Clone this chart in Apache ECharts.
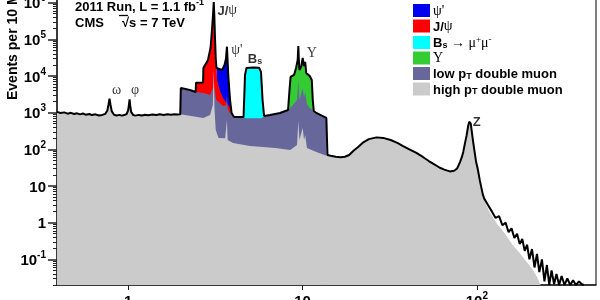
<!DOCTYPE html>
<html>
<head>
<meta charset="utf-8">
<script src="https://cdn.jsdelivr.net/npm/echarts@6/dist/echarts.min.js"></script>
<style>
  html, body { margin: 0; padding: 0; background: #fff; }
  #chart { width: 600px; height: 300px; }
</style>
</head>
<body>
<div id="chart"></div>
<script>
// dimuon mass (GeV) and events per bin

// below 2 GeV: both triggers give the same curve
const lowMass = [0.39, 0.41, 0.43, 0.45, 0.47, 0.49, 0.51, 0.53, 0.55, 0.57, 0.6, 0.62, 0.65, 0.68, 0.71, 0.74, 0.76, 0.772, 0.782, 0.792, 0.805, 0.83, 0.86, 0.89, 0.92, 0.95, 0.98, 1.0, 1.012, 1.019, 1.027, 1.04, 1.07, 1.1, 1.15, 1.2, 1.25, 1.3, 1.38, 1.45, 1.52, 1.6, 1.68, 1.76, 1.84, 1.92, 1.99];
const lowEvents = [1050, 980, 1020, 940, 990, 920, 960, 900, 950, 880, 920, 860, 900, 840, 870, 930, 1150, 1700, 2400, 1650, 1100, 880, 840, 870, 830, 860, 920, 1150, 1750, 2300, 1600, 1050, 860, 830, 870, 840, 880, 850, 890, 860, 900, 870, 900, 880, 910, 890, 900];

// 2 - 13.9 GeV: total (outline)
const midMass = [2.0, 2.005, 2.26, 2.44, 2.45, 2.69, 2.70, 2.87, 2.97, 3.03, 3.07, 3.097, 3.12, 3.15, 3.18, 3.21, 3.28, 3.455, 3.57, 3.64, 3.686, 3.72, 3.75, 3.84, 3.92, 4.05, 4.59, 4.68, 4.77, 5.2, 5.63, 5.78, 5.90, 6.02, 6.51, 7.43, 8.26, 8.42, 8.54, 8.94, 9.18, 9.38, 9.46, 9.53, 9.6, 9.85, 10.02, 10.2, 10.36, 10.5, 11.0, 11.3, 11.45, 11.6, 12.0, 13.0, 13.7, 13.86];
const midTotal = [900, 4700, 4160, 3670, 6500, 6700, 16500, 27300, 60000, 200000, 500000, 1040000, 450000, 100000, 30000, 16500, 14600, 14600, 20000, 30000, 63000, 25000, 10700, 2220, 980, 764, 760, 10700, 16600, 17000, 16900, 12900, 2220, 813, 865, 982, 1186, 4160, 9420, 10700, 16600, 27300, 65900, 27300, 14600, 18800, 31000, 18800, 24200, 12100, 10000, 7800, 2220, 1110, 982, 813, 718, 700];

// triggered resonances
const jpsiMass = [2.44, 2.45, 2.69, 2.70, 2.87, 2.97, 3.03, 3.07, 3.097, 3.12, 3.15, 3.18, 3.21, 3.24, 3.35, 3.5, 3.7, 3.85, 3.95, 4.02];
const jpsiEvents = [3670, 6500, 6700, 16500, 27300, 60000, 200000, 500000, 1040000, 450000, 100000, 30000, 16500, 7800, 4160, 2520, 1730, 1340, 920, 760];
const psiMass = [3.21, 3.28, 3.455, 3.57, 3.64, 3.686, 3.72, 3.75, 3.84, 3.92, 4.05];
const psiEvents = [16500, 14600, 14600, 20000, 30000, 63000, 25000, 10700, 2220, 980, 764];
const bsMass = [4.59, 4.68, 4.77, 5.2, 5.63, 5.78, 5.90, 6.02];
const bsEvents = [760, 10700, 16600, 17000, 16900, 12900, 2220, 813];
const upsMass = [8.26, 8.42, 8.54, 8.94, 9.18, 9.38, 9.46, 9.53, 9.6, 9.85, 10.02, 10.2, 10.36, 10.5, 11.0, 11.3, 11.45, 11.6];
const upsEvents = [1186, 4160, 9420, 10700, 16600, 27300, 65900, 27300, 14600, 18800, 31000, 18800, 24200, 12100, 10000, 7800, 2220, 1110];

// low pT double muon
const lowPtMass = [2.002, 2.26, 2.44, 2.7, 2.95, 3.08, 3.097, 3.115, 3.2, 3.5, 3.65, 3.686, 3.72, 3.8, 4.05, 4.55, 4.7, 5.8, 6.02, 6.51, 7.43, 8.26, 8.5, 9.3, 9.46, 9.6, 10.02, 10.2, 10.36, 10.6, 11.0, 11.5, 12.0, 13.0, 13.7, 13.86];
const lowPtEvents = [4700, 4160, 3670, 3440, 3040, 5000, 15000, 5000, 2220, 1520, 1600, 3040, 1300, 1045, 760, 745, 700, 700, 790, 865, 982, 1186, 1340, 2220, 7800, 2220, 4720, 2520, 3670, 1730, 1340, 1190, 982, 813, 718, 700];

// high pT double muon between 2 and 13.9 GeV
const highPtMass = [2.0, 2.3, 2.7, 2.95, 3.06, 3.097, 3.13, 3.18, 3.3, 3.6, 3.65, 3.686, 3.72, 4.0, 5.0, 7.0, 8.5, 9.3, 9.46, 9.6, 10.02, 10.2, 10.36, 10.6, 12.0, 13.86];
const highPtEvents = [900, 810, 718, 865, 1620, 14600, 1190, 337, 204, 200, 215, 632, 180, 149, 124, 109, 96, 131, 600, 180, 383, 180, 247, 109, 85, 66];

// above 13.9 GeV up to the Z
const zMass = [13.9, 14.5, 15.5, 16.5, 17.5, 18.5, 19.6, 21, 22.3, 24, 26.6, 29, 32, 35, 37.5, 41, 45, 49, 53, 57, 61, 65, 70, 74, 77, 80, 82, 83.5, 85.5, 87.3, 89, 90.3, 91.2, 92.2, 93.3, 95, 97, 99, 101];
const zEvents = [70, 67, 63, 61, 63, 70, 92, 120, 155, 190, 212, 205, 180, 150, 125, 100, 80, 62, 48, 39, 32, 28, 25, 26, 30, 45, 62, 85, 150, 240, 420, 570, 610, 500, 330, 170, 85, 45, 30];

// high mass tail: outline and the grey fill under it
const tailMass = [104, 108, 110, 116, 122, 128, 134, 140, 146, 152, 158, 164, 170, 176, 182, 188, 194, 200, 207, 214, 221, 228, 236, 244, 252, 260, 268, 277, 286, 296, 306, 318, 330, 343, 356, 370, 385, 400, 410];
const tailEvents = [14, 6, 4.6, 3.0, 2.0, 1.35, 1.5, 0.85, 1.0, 0.55, 0.7, 0.38, 0.5, 0.26, 0.36, 0.17, 0.25, 0.1, 0.19, 0.06, 0.14, 0.045, 0.1, 0.025, 0.07, 0.02, 0.05, 0.021, 0.04, 0.02, 0.035, 0.02, 0.03, 0.02, 0.027, 0.02, 0.025, 0.021, 0.02];
const greyTailMass = [104, 108, 118, 130, 145, 160, 176, 195, 210, 222, 232];
const greyTailEvents = [12, 5, 2.0, 0.95, 0.5, 0.25, 0.15, 0.08, 0.05, 0.032, 0.02];

// peak annotations
const peakNames = ['omega', 'phi', 'jpsi', 'psi', 'bs', 'ups', 'z'];
const peakMass = [0.86, 1.095, 3.7, 4.2, 5.34, 11.3, 99.7];
const peakEvents = [4160, 4160, 632000, 51300, 30400, 43300, 569];

const yTicks = [-1, 0, 1, 2, 3, 4, 5, 6];
const xTicks = [0, 1, 2];

const sans = '"Liberation Sans", Arial, sans-serif';
const serif = '"Liberation Serif", "DejaVu Serif", serif';

const toXY = (ms, ns) => ms.map((m, i) => [Math.log10(m), Math.log10(ns[i])]);

const peakText = {
  omega: '{g|ω}',
  phi: '{g|φ}',
  jpsi: '{b|J/}{g|ψ}',
  psi: "{g|ψ'}",
  bs: '{b|B}{sub|s}',
  ups: '{g|Υ}',
  z: '{b|Z}'
};
const legendText = {
  psi: "{g|ψ'}",
  jpsi: '{b|J/}{g|ψ}',
  bs: '{b|B}{sub|s}{g| → μ}{sup|+}{g|μ}{sup|-}',
  ups: '{g|Υ}',
  lowpt: '{b|low p}{sub|T}{b| double muon}',
  highpt: '{b|high p}{sub|T}{b| double muon}'
};
const richText = {
  b: { fontFamily: sans, fontWeight: 'bold', fontSize: 13, color: '#000', lineHeight: 15, verticalAlign: 'bottom' },
  g: { fontFamily: serif, fontSize: 14, color: '#000', lineHeight: 15, verticalAlign: 'bottom' },
  sub: { fontFamily: sans, fontWeight: 'bold', fontSize: 9, color: '#000', lineHeight: 9, verticalAlign: 'bottom' },
  sup: { fontFamily: serif, fontSize: 9, color: '#000', lineHeight: 9, verticalAlign: 'top' }
};

const minorTicks = [];
for (let n = -2; n <= 6; n++) {
  for (let k = 2; k <= 9; k++) minorTicks.push(n + Math.log10(k));
}

function area(name, color, data) {
  return {
    name: name,
    type: 'line',
    data: data,
    symbol: 'none',
    silent: true,
    color: color,
    itemStyle: { color: color },
    lineStyle: { width: 0 },
    areaStyle: { color: color, opacity: 1, origin: 'start' }
  };
}

const supLabel = {
  b: { fontFamily: sans, fontWeight: 'bold', fontSize: 15, color: '#000', lineHeight: 18, verticalAlign: 'bottom' },
  s: { fontFamily: sans, fontWeight: 'bold', fontSize: 10, color: '#000', lineHeight: 10, verticalAlign: 'top' }
};

const chart = echarts.init(document.getElementById('chart'));
chart.setOption({
  animation: false,
  grid: {
    left: 57, right: 4, top: -3, bottom: 15,
    show: true, borderColor: '#000', borderWidth: 1,
    outerBoundsMode: 'none'
  },
  xAxis: {
    type: 'value',
    min: -0.408,
    max: 2.683,
    splitLine: { show: false },
    axisLine: { onZero: false, lineStyle: { color: '#222', width: 1.5 } },
    axisTick: { customValues: xTicks, length: 5, lineStyle: { color: '#222' } },
    axisLabel: {
      customValues: xTicks,
      margin: 6,
      formatter: v => v === 0 ? '{b|1}' : v === 1 ? '{b|10}' : '{b|10}{s|' + v + '}',
      rich: supLabel
    }
  },
  yAxis: [{
    type: 'value',
    min: -1.70,
    max: 6.155,
    splitLine: { show: false },
    axisLine: { show: true, onZero: false, lineStyle: { color: '#222', width: 1.5 } },
    axisTick: { customValues: yTicks, length: 9, lineStyle: { color: '#222', width: 1.5 } },
    axisLabel: {
      customValues: yTicks,
      margin: 11,
      formatter: v => v === 0 ? '{b|1}' : v === 1 ? '{b|10}' : '{b|10}{s|' + v + '}',
      rich: supLabel
    }
  }, {
    type: 'value',
    min: -1.70,
    max: 6.155,
    position: 'left',
    splitLine: { show: false },
    axisLine: { show: false, onZero: false },
    axisLabel: { show: false },
    axisTick: { customValues: minorTicks, length: 4, lineStyle: { color: '#222' } }
  }],
  legend: {
    orient: 'vertical',
    left: 413,
    top: 4,
    padding: 0,
    icon: 'rect',
    itemWidth: 17,
    itemHeight: 13,
    itemGap: 1.5,
    itemStyle: { borderWidth: 0 },
    selectedMode: false,
    data: ['psi', 'jpsi', 'bs', 'ups', 'lowpt', 'highpt'],
    formatter: name => legendText[name],
    textStyle: { rich: richText, padding: [0, 0, 0, -2] }
  },
  graphic: [
    {
      type: 'text', x: 75, y: 6,
      style: {
        text: '{a|2011 Run, L = 1.1 fb}{s|-1}',
        align: 'left', verticalAlign: 'middle',
        rich: {
          a: { fontFamily: sans, fontWeight: 'bold', fontSize: 13, fill: '#000', lineHeight: 16, verticalAlign: 'bottom' },
          s: { fontFamily: sans, fontWeight: 'bold', fontSize: 9, fill: '#000', lineHeight: 9, verticalAlign: 'top' }
        }
      }
    },
    {
      type: 'text', x: 75, y: 23,
      style: {
        text: 'CMS     √s = 7 TeV',
        fontFamily: sans, fontWeight: 'bold', fontSize: 13, fill: '#000',
        align: 'left', verticalAlign: 'middle'
      }
    },
    {
      // bar of the root sign over the s
      type: 'line',
      shape: { x1: 119, y1: 15.5, x2: 128, y2: 15.5 },
      style: { stroke: '#000', lineWidth: 1.3 }
    },
    {
      type: 'text', x: 13, y: 100, rotation: Math.PI / 2,
      style: {
        text: 'Events per 10 MeV',
        fontFamily: sans, fontWeight: 'bold', fontSize: 14, fill: '#000',
        align: 'left', verticalAlign: 'middle'
      }
    }
  ],
  series: [
    area('psi', '#0000f0', toXY(psiMass, psiEvents)),
    area('jpsi', '#ff0000', toXY(jpsiMass, jpsiEvents)),
    area('bs', '#00ffff', toXY(bsMass, bsEvents)),
    area('ups', '#33cc33', toXY(upsMass, upsEvents)),
    area('lowpt', '#67679b', toXY(lowPtMass, lowPtEvents)),
    area('highpt', '#cbcbcb', toXY(
      lowMass.concat(highPtMass, zMass, greyTailMass),
      lowEvents.concat(highPtEvents, zEvents, greyTailEvents))),
    {
      name: 'total',
      type: 'line',
      symbol: 'none',
      silent: true,
      data: toXY(lowMass.concat(midMass, zMass, tailMass), lowEvents.concat(midTotal, zEvents, tailEvents)),
      lineStyle: { color: '#000', width: 2 }
    },
    {
      name: 'labels',
      type: 'scatter',
      symbolSize: 0.1,
      silent: true,
      itemStyle: { color: 'transparent' },
      data: peakNames.map((n, i) => [Math.log10(peakMass[i]), Math.log10(peakEvents[i]), n]),
      label: {
        show: true,
        position: 'inside',
        formatter: p => peakText[p.value[2]],
        rich: {
          b: { fontFamily: sans, fontWeight: 'bold', fontSize: 13, color: '#000', lineHeight: 15, verticalAlign: 'bottom' },
          g: { fontFamily: serif, fontSize: 14, color: '#000', lineHeight: 15, verticalAlign: 'bottom' },
          sub: { fontFamily: sans, fontWeight: 'bold', fontSize: 9, color: '#000', lineHeight: 9, verticalAlign: 'bottom' }
        }
      }
    }
  ]
});
</script>
</body>
</html>
